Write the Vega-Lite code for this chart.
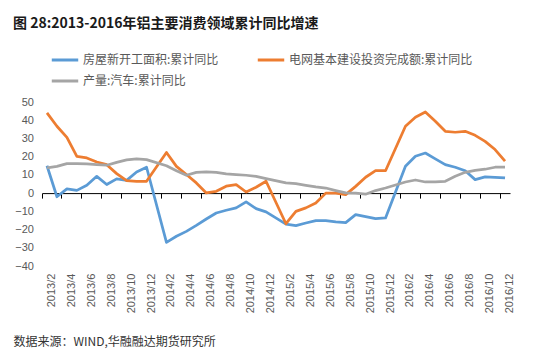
{
  "$schema": "https://vega.github.io/schema/vega-lite/v6.json",
  "width": 468,
  "height": 164,
  "autosize": "none",
  "padding": {"left": 42, "top": 102, "right": 24, "bottom": 87},
  "background": "white",
  "title": {
    "text": "图 28:2013-2016年铝主要消费领域累计同比增速",
    "anchor": "start",
    "frame": "group",
    "dx": -29,
    "offset": 14,
    "fontSize": 14,
    "font": "Noto Sans CJK SC",
    "fontWeight": "bold",
    "color": "#1a1a1a"
  },
  "data": {
    "values": [
      {"i": 0, "m": "2013/2", "h": 15, "g": 44, "p": 13.8},
      {"i": 1, "m": "2013/3", "h": -2, "g": 36.7, "p": 14.7},
      {"i": 2, "m": "2013/4", "h": 2.3, "g": 30.6, "p": 16.2},
      {"i": 3, "m": "2013/5", "h": 1.5, "g": 20.2, "p": 16.2},
      {"i": 4, "m": "2013/6", "h": 4.3, "g": 19.3, "p": 16},
      {"i": 5, "m": "2013/7", "h": 9.2, "g": 17.1, "p": 15.6},
      {"i": 6, "m": "2013/8", "h": 4.7, "g": 15.6, "p": 15.3},
      {"i": 7, "m": "2013/9", "h": 7.8, "g": 10.7, "p": 16.9},
      {"i": 8, "m": "2013/10", "h": 7.0, "g": 6.9, "p": 18.2},
      {"i": 9, "m": "2013/11", "h": 11.6, "g": 6.5, "p": 18.8},
      {"i": 10, "m": "2013/12", "h": 14.2, "g": 6.5, "p": 18.4},
      {"i": 12, "m": "2014/2", "h": -27, "g": 22.3, "p": 15},
      {"i": 13, "m": "2014/3", "h": -23.7, "g": 14.7, "p": 12.3},
      {"i": 14, "m": "2014/4", "h": -21, "g": 10.2, "p": 9.8},
      {"i": 15, "m": "2014/5", "h": -17.7, "g": 5.6, "p": 11.4},
      {"i": 16, "m": "2014/6", "h": -14.2, "g": 0.1, "p": 11.6},
      {"i": 17, "m": "2014/7", "h": -10.9, "g": 1, "p": 11.4},
      {"i": 18, "m": "2014/8", "h": -9.4, "g": 3.8, "p": 10.5},
      {"i": 19, "m": "2014/9", "h": -8.1, "g": 4.7, "p": 10.2},
      {"i": 20, "m": "2014/10", "h": -4.8, "g": 0.6, "p": 9.8},
      {"i": 21, "m": "2014/11", "h": -8.5, "g": 3.2, "p": 9.2},
      {"i": 22, "m": "2014/12", "h": -10.3, "g": 6.5, "p": 8},
      {"i": 24, "m": "2015/2", "h": -17, "g": -16.8, "p": 5.6},
      {"i": 25, "m": "2015/3", "h": -17.8, "g": -10, "p": 5.2},
      {"i": 26, "m": "2015/4", "h": -16.4, "g": -8.1, "p": 4.3},
      {"i": 27, "m": "2015/5", "h": -15.1, "g": -5.4, "p": 3.4},
      {"i": 28, "m": "2015/6", "h": -15.1, "g": 0, "p": 2.8},
      {"i": 29, "m": "2015/7", "h": -15.8, "g": 0, "p": 1.4},
      {"i": 30, "m": "2015/8", "h": -16.2, "g": -0.8, "p": 0.1},
      {"i": 31, "m": "2015/9", "h": -11.8, "g": 3.7, "p": 0},
      {"i": 32, "m": "2015/10", "h": -12.9, "g": 8.7, "p": -0.6},
      {"i": 33, "m": "2015/11", "h": -14, "g": 12.3, "p": 1.4},
      {"i": 34, "m": "2015/12", "h": -13.6, "g": 12.3, "p": 2.8},
      {"i": 36, "m": "2016/2", "h": 14.7, "g": 36.7, "p": 6.1},
      {"i": 37, "m": "2016/3", "h": 20.2, "g": 41.6, "p": 7.2},
      {"i": 38, "m": "2016/4", "h": 22, "g": 44.5, "p": 6.1},
      {"i": 39, "m": "2016/5", "h": 18.8, "g": 39.4, "p": 6.1},
      {"i": 40, "m": "2016/6", "h": 15.6, "g": 33.9, "p": 6.5},
      {"i": 41, "m": "2016/7", "h": 14.2, "g": 33.4, "p": 9.2},
      {"i": 42, "m": "2016/8", "h": 12.3, "g": 33.9, "p": 11.4},
      {"i": 43, "m": "2016/9", "h": 7.4, "g": 31.7, "p": 12.5},
      {"i": 44, "m": "2016/10", "h": 8.9, "g": 28.4, "p": 13.1},
      {"i": 45, "m": "2016/11", "h": 8.7, "g": 23.9, "p": 14.2},
      {"i": 46, "m": "2016/12", "h": 8.3, "g": 17.5, "p": 14.2}
    ]
  },
  "transform": [
    {"fold": ["h", "g", "p"], "as": ["s", "v"]}
  ],
  "mark": {"type": "line", "strokeWidth": 2.75, "strokeJoin": "round"},
  "encoding": {
    "x": {
      "field": "m",
      "type": "ordinal",
      "bandPosition": 0.5,
      "scale": {
        "type": "band",
        "paddingInner": 0,
        "paddingOuter": 0,
        "domain": ["2013/2","2013/3","2013/4","2013/5","2013/6","2013/7","2013/8","2013/9","2013/10","2013/11","2013/12",
                   "2014/1","2014/2","2014/3","2014/4","2014/5","2014/6","2014/7","2014/8","2014/9","2014/10","2014/11","2014/12",
                   "2015/1","2015/2","2015/3","2015/4","2015/5","2015/6","2015/7","2015/8","2015/9","2015/10","2015/11","2015/12",
                   "2016/1","2016/2","2016/3","2016/4","2016/5","2016/6","2016/7","2016/8","2016/9","2016/10","2016/11","2016/12"]
      },
      "axis": {
        "values": ["2013/2","2013/4","2013/6","2013/8","2013/10","2013/12",
                   "2014/2","2014/4","2014/6","2014/8","2014/10","2014/12",
                   "2015/2","2015/4","2015/6","2015/8","2015/10","2015/12",
                   "2016/2","2016/4","2016/6","2016/8","2016/10","2016/12"],
        "bandPosition": 0,
        "offset": -72.9,
        "domainColor": "#000000",
        "domainWidth": 1,
        "tickColor": "#000000",
        "tickWidth": 1,
        "tickSize": 5,
        "grid": false,
        "labelAngle": 270,
        "labelOffset": 5,
        "labelPadding": 75,
        "labelFontSize": 11,
        "labelFont": "Liberation Sans",
        "labelColor": "#595959",
        "labelOverlap": false,
        "labelBound": false,
        "labelFlush": false,
        "title": "数据来源：WIND,华融融达期货研究所",
        "titleX": -29,
        "titleY": 148,
        "titleAlign": "left",
        "titleBaseline": "middle",
        "titleAngle": 0,
        "titleFont": "Noto Sans CJK SC",
        "titleFontSize": 12,
        "titleFontWeight": "normal",
        "titleColor": "#333333"
      }
    },
    "y": {
      "field": "v",
      "type": "quantitative",
      "scale": {"domain": [-40, 50], "nice": false, "zero": false},
      "axis": {
        "values": [-40, -30, -20, -10, 0, 10, 20, 30, 40, 50],
        "grid": false,
        "domain": false,
        "ticks": false,
        "labelPadding": 8.5,
        "labelFontSize": 11,
        "labelFont": "Liberation Sans",
        "labelColor": "#595959",
        "title": null
      }
    },
    "color": {
      "field": "s",
      "type": "nominal",
      "scale": {"domain": ["h", "g", "p"], "range": ["#5B9BD5", "#ED7D31", "#A5A5A5"]},
      "legend": {
        "orient": "none",
        "legendX": 8,
        "legendY": -57,
        "direction": "horizontal",
        "columns": 2,
        "title": null,
        "padding": 0,
        "symbolType": "stroke",
        "symbolSize": 700,
        "symbolStrokeWidth": 3,
        "labelFontSize": 12,
        "labelFont": "Noto Sans CJK SC",
        "labelColor": "#595959",
        "labelLimit": 300,
        "labelOffset": 3,
        "columnPadding": 32,
        "rowPadding": -1,
        "labelExpr": "datum.value == 'h' ? '房屋新开工面积:累计同比' : datum.value == 'g' ? '电网基本建设投资完成额:累计同比' : '产量:汽车:累计同比'"
      }
    },
    "order": {"field": "i", "type": "quantitative"}
  },
  "config": {"view": {"stroke": null}}
}
